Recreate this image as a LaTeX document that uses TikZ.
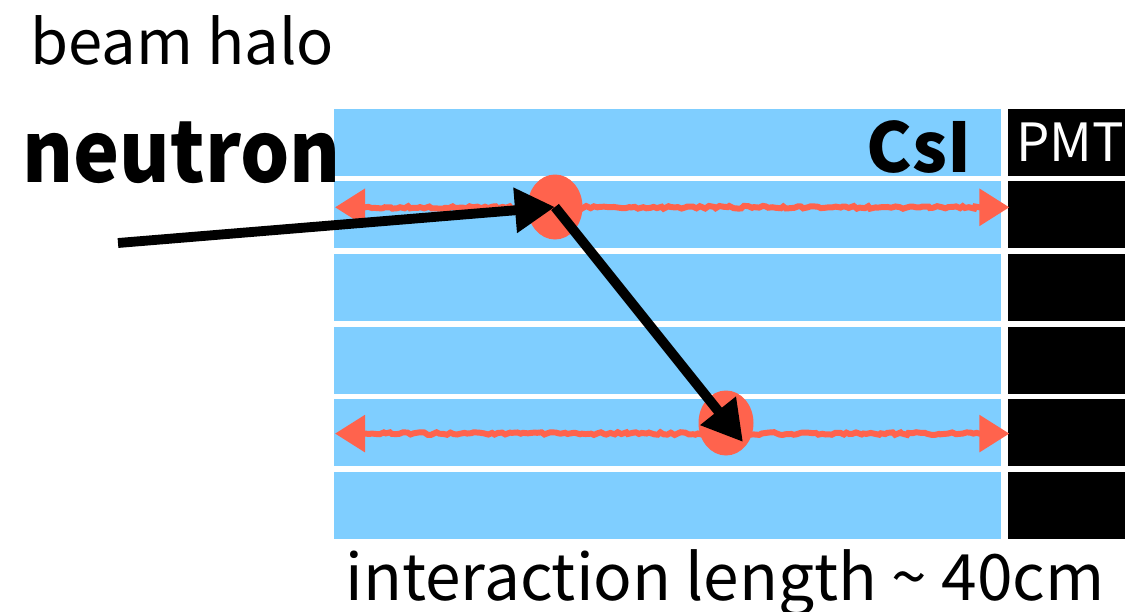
\documentclass[tikz,border=0pt]{standalone}
\usepackage{fontspec}
\setmainfont{Noto Sans CJK JP}
\usepackage{tikz}
\usetikzlibrary{positioning,arrows.meta,calc,shapes.geometric,decorations.pathmorphing}
\definecolor{csiblue}{RGB}{127,206,255}
\definecolor{hitred}{RGB}{255,99,77}

\begin{document}
\begin{tikzpicture}[
  csi/.style={fill=csiblue,minimum width=6.67cm,minimum height=6.7mm,inner sep=0pt,anchor=north west},
  pmt/.style={fill=black,minimum width=1.25cm,minimum height=6.7mm,inner sep=0pt,anchor=north west},
  hit/.style={ellipse,fill=hitred,minimum width=5.5mm,minimum height=6.5mm,inner sep=0pt},
  shower/.style={{Triangle[length=3mm,width=3.6mm]}-{Triangle[length=3mm,width=3.6mm]},hitred,line width=1.7pt,
                 decorate,decoration={random steps,segment length=1pt,amplitude=0.4pt,pre length=3mm,post length=3mm}},
  track/.style={-{Triangle[length=4mm,width=4.3mm]},line width=2.8pt},
]
  \useasboundingbox (0,0) rectangle (11.25,-6.12);
  % crystal rows with their PMTs
  \foreach \i in {1,...,6}{
    \node[csi] (csi\i) at (3.33,{-1.08-0.726*(\i-1)}) {};
    \node[pmt] (pmt\i) at (10.07,{-1.08-0.726*(\i-1)}) {};
  }
  \node[text=white,font=\fontsize{15}{17}\selectfont] (pmtlabel) at (pmt1.center) {PMT};
  \node[anchor=base east,font=\fontsize{19.5}{21}\selectfont\bfseries,inner sep=0pt] (csilabel) at (9.72,-1.72) {CsI};
  % light running to both ends
  \draw[shower] ($(csi2.west)+(0.02,0.075)$) -- ($(csi2.east)+(0.08,0.075)$);
  \draw[shower] ($(csi5.west)+(0.02,-0.01)$) -- ($(csi5.east)+(0.08,-0.01)$);
  % interaction points
  \node[hit] (hit1) at (5.55,-2.07) {};
  \node[hit] (hit2) at (7.26,-4.23) {};
  \coordinate (halo) at (1.18,-2.43);
  \coordinate (stop) at (7.43,-4.42);
  \draw[track] (halo) -- (hit1.center);
  \draw[track] (hit1.center) -- (stop);
  % labels
  \node[anchor=base west,inner sep=0pt,font=\fontsize{17.5}{20}\selectfont] (beam) at (0.30,-0.65) {beam halo};
  \node[anchor=base west,inner sep=0pt,font=\fontsize{24}{28}\selectfont\bfseries,xscale=0.92,transform shape] (neutron) at (0.22,-1.82) {neutron};
  \node[anchor=base west,inner sep=0pt,font=\fontsize{18.2}{20}\selectfont] (length) at (3.45,-6.00) {interaction length \textasciitilde{} 40cm};
\end{tikzpicture}
\end{document}
